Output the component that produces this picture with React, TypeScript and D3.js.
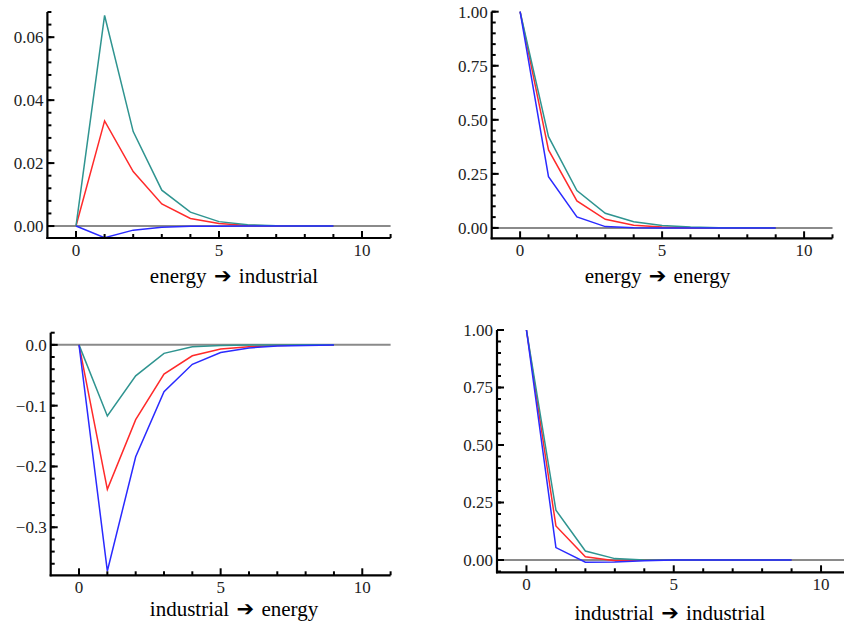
import React from "react";
import * as d3 from "d3";

const horizons = [0, 1, 2, 3, 4, 5, 6, 7, 8, 9];

// energy -> industrial
const eiTeal = [0, 0.0669, 0.030, 0.0114, 0.0044, 0.0014, 0.0004, 0.0001, 0.00003, 0.00001];
const eiRed = [0, 0.0334, 0.0173, 0.0070, 0.0024, 0.0008, 0.0002, 0.00005, 0.00001, 0];
const eiBlue = [0, -0.0037, -0.0013, -0.0004, -0.0001, -0.00003, 0, 0, 0, 0];

// energy -> energy
const eeTeal = [1.0, 0.422, 0.173, 0.068, 0.029, 0.011, 0.004, 0.001, 0.0004, 0.0001];
const eeRed = [1.0, 0.361, 0.125, 0.040, 0.012, 0.004, 0.001, 0.0003, 0.0001, 0];
const eeBlue = [1.0, 0.237, 0.051, 0.006, 0.001, 0.0002, 0, 0, 0, 0];

// industrial -> energy
const ieTeal = [0, -0.117, -0.051, -0.014, -0.003, -0.001, -0.0003, -0.0001, 0, 0];
const ieRed = [0, -0.2376, -0.123, -0.048, -0.018, -0.007, -0.003, -0.001, -0.0004, -0.0001];
const ieBlue = [0, -0.372, -0.184, -0.077, -0.032, -0.0125, -0.005, -0.002, -0.001, -0.0003];

// industrial -> industrial
const iiTeal = [1.0, 0.217, 0.039, 0.006, 0.0005, 0, 0, 0, 0, 0];
const iiRed = [1.0, 0.148, 0.014, -0.003, -0.0005, 0, 0, 0, 0, 0];
const iiBlue = [1.0, 0.054, -0.010, -0.009, -0.003, -0.0005, 0, 0, 0, 0];

const xTickLabels = [0, 5, 10];
const eiYTicks = [0, 0.02, 0.04, 0.06];
const eeYTicks = [0, 0.25, 0.5, 0.75, 1.0];
const ieYTicks = [0, -0.1, -0.2, -0.3];
const iiYTicks = [0, 0.25, 0.5, 0.75, 1.0];

const titles = ["energy", "industrial"];

const TEAL = "#2f9490";
const RED = "#ff2a2a";
const BLUE = "#2a2aff";
const SERIF = "'Liberation Serif', 'Times New Roman', 'DejaVu Serif', serif";

type PanelProps = {
  x0: number; x1: number; y0: number; y1: number;
  yDomain: [number, number];
  yTicks: number[];
  yMinorStep: number;
  yFmt: string;
  series: number[][];
  title: string;
  titleX: number; titleY: number;
};

function Panel(p: PanelProps) {
  const x = d3.scaleLinear().domain([-1, 11]).range([p.x0, p.x1]);
  const y = d3.scaleLinear().domain(p.yDomain).range([p.y0, p.y1]);
  const fmt = d3.format(p.yFmt);
  const line = d3
    .line<number>()
    .x((_, i) => x(horizons[i]))
    .y((d) => y(d));
  const minor: number[] = [];
  const start = Math.ceil((p.yDomain[0] - 1e-9) / p.yMinorStep);
  const end = Math.floor((p.yDomain[1] + 1e-9) / p.yMinorStep);
  for (let k = start; k <= end; k++) minor.push(k * p.yMinorStep);
  const xTicks = d3.range(0, 12);
  const colors = [RED, TEAL, BLUE];
  const order = [p.series[1], p.series[0], p.series[2]];
  const parts = p.title.split("|");
  const tickStyle = { fontFamily: SERIF, fontSize: "17px" };
  return (
    <g>
      <line x1={x(-1)} x2={x(11)} y1={y(0)} y2={y(0)} stroke="#8a8a8a" strokeWidth={2} />
      {order.map((s, i) => (
        <path key={i} d={line(s) || ""} fill="none" stroke={colors[i]} strokeWidth={1.5} />
      ))}
      {/* y axis */}
      <line x1={p.x0} x2={p.x0} y1={p.y0 + 1} y2={p.y1} stroke="#000" strokeWidth={2.2} />
      {minor.map((v, i) => (
        <line key={"m" + i} x1={p.x0} x2={p.x0 + 4} y1={y(v)} y2={y(v)} stroke="#000" strokeWidth={2} />
      ))}
      {p.yTicks.map((v, i) => (
        <g key={"t" + i}>
          <line x1={p.x0} x2={p.x0 + 7} y1={y(v)} y2={y(v)} stroke="#000" strokeWidth={2} />
          <text x={p.x0 - 4} y={y(v)} dy="0.35em" textAnchor="end" style={tickStyle} fill="#222">
            {fmt(v)}
          </text>
        </g>
      ))}
      {/* x axis */}
      <line x1={p.x0 - 1} x2={p.x1} y1={p.y0} y2={p.y0} stroke="#000" strokeWidth={2.2} />
      {xTicks.map((v) => (
        <line
          key={"x" + v}
          x1={x(v)}
          x2={x(v)}
          y1={p.y0}
          y2={p.y0 - (v % 5 === 0 ? 7 : 4)}
          stroke="#000"
          strokeWidth={2}
        />
      ))}
      {xTickLabels.map((v) => (
        <text key={"xl" + v} x={x(v)} y={p.y0 + 18} textAnchor="middle" style={tickStyle} fill="#222">
          {v}
        </text>
      ))}
      <text
        x={p.titleX}
        y={p.titleY}
        textAnchor="middle"
        style={{ fontFamily: SERIF, fontSize: "21px" }}
        fill="#000"
      >
        {parts[0]}
        <tspan style={{ fontFamily: "'DejaVu Sans', sans-serif", fontWeight: "bold" }}>{" \u2794 "}</tspan>
        {parts[1]}
      </text>
    </g>
  );
}

export default function App() {
  return (
    <svg width={844} height={629} style={{ display: "block", position: "absolute", left: 0, top: 0 }}>
      <rect width={844} height={629} fill="#fff" />
      <Panel
        x0={47.4} x1={390.6} y0={238} y1={12}
        yDomain={[-0.0038, 0.068]} yTicks={eiYTicks} yMinorStep={0.004} yFmt=".2f"
        series={[eiTeal, eiRed, eiBlue]}
        title={titles[0] + "|" + titles[1]} titleX={234} titleY={283}
      />
      <Panel
        x0={491.7} x1={832.5} y0={238.3} y1={11.7}
        yDomain={[-0.048, 1.0]} yTicks={eeYTicks} yMinorStep={0.05} yFmt=".2f"
        series={[eeTeal, eeRed, eeBlue]}
        title={titles[0] + "|" + titles[0]} titleX={657.5} titleY={283}
      />
      <Panel
        x0={50.7} x1={390.6} y0={575.3} y1={332.7}
        yDomain={[-0.379, 0.02]} yTicks={ieYTicks} yMinorStep={0.02} yFmt=".1f"
        series={[ieTeal, ieRed, ieBlue]}
        title={titles[1] + "|" + titles[0]} titleX={234} titleY={616}
      />
      <Panel
        x0={497} x1={850.5} y0={572.3} y1={330}
        yDomain={[-0.0535, 1.0]} yTicks={iiYTicks} yMinorStep={0.05} yFmt=".2f"
        series={[iiTeal, iiRed, iiBlue]}
        title={titles[1] + "|" + titles[1]} titleX={670} titleY={620}
      />
    </svg>
  );
}
